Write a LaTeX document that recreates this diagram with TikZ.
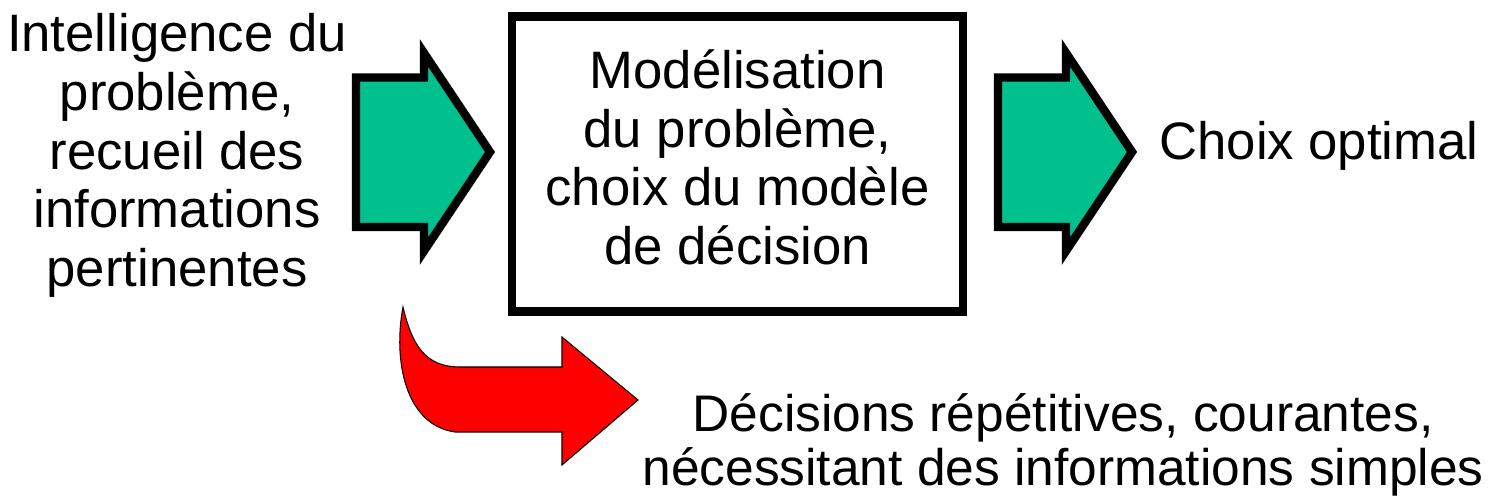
\documentclass[tikz,border=0pt]{standalone}
\usepackage{fontspec}
\setmainfont{Liberation Sans}
\definecolor{vertfleche}{RGB}{0,192,142}
\begin{document}
\begin{tikzpicture}[
x=0.02cm, y=-0.02cm,
texte/.style={
align=center,
inner sep=0pt,
font=\fontsize{30}{33.4}\selectfont
},
cadre/.style={
draw,
line width=5pt,
minimum width=9.02cm,
minimum height=5.9cm
},
fleche/.style={draw, fill=vertfleche, line width=4.8pt, line join=miter},
courbe/.style={draw, fill=red, line width=0.6pt}
]
\useasboundingbox (0,0) rectangle (1494,499);
\node[cadre, texte, text depth=0.28cm] (modele) at (737.5,164) {Mod\'elisation\\du probl\`eme,\\choix du mod\`ele\\de d\'ecision};
\node[texte] (intelligence) at (177,155.5) {Intelligence du\\probl\`eme,\\recueil des\\informations\\pertinentes};
\node[texte, anchor=base] (choix) at (1319,160) {Choix optimal};
\node[texte, font=\fontsize{29.3}{31}\selectfont] (decisions) at (1063,445) {D\'ecisions r\'ep\'etitives, courantes,\\n\'ecessitant des informations simples};
% fleches vertes
\draw[fleche] (356,77.5) -- (424,77.5) -- (424,53) -- (490,152) -- (424,251) -- (424,227) -- (356,227) -- cycle;
\draw[fleche] (998,77.5) -- (1066,77.5) -- (1066,53) -- (1132,152) -- (1066,251) -- (1066,227) -- (998,227) -- cycle;
% fleche courbe rouge
\draw[courbe] (403,307) .. controls (412,345) and (425,367) .. (460,367) -- (562,367) -- (562,337) -- (638,400) -- (562,465) -- (562,432) -- (455,432) .. controls (405,425) and (393,360) .. (403,307) -- cycle;
\end{tikzpicture}
\end{document}
